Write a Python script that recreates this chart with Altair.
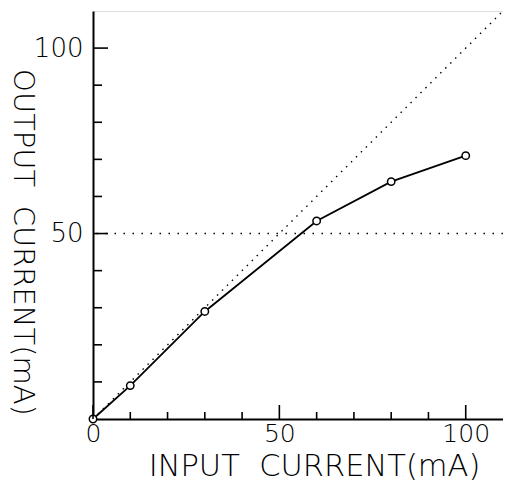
import altair as alt
import pandas as pd

# data
input_ma = [0, 10, 30, 60, 80, 100]
output_ma = [0, 9, 29, 53.4, 64, 71]
ideal_x = [0, 110]
ideal_y = [0, 110]
ref_level = 50
x_major = [0, 50, 100]
x_minor = [10, 20, 30, 40, 60, 70, 80, 90]
y_major = [50, 100]
y_minor = [10, 20, 30, 40, 60, 70, 80, 90]
x_title = "INPUT\u00a0\u00a0CURRENT(mA)"
y_title = "OUTPUT\u00a0\u00a0CURRENT(mA)"

W, H = 410, 408
FONT = "DejaVu Sans"

meas = pd.DataFrame({"x": input_ma, "y": output_ma})
ideal = pd.DataFrame({"x": ideal_x, "y": ideal_y})

xs = alt.Scale(domain=[0, 110], nice=False, zero=False)
ys = alt.Scale(domain=[0, 110], nice=False, zero=False)

x_axis = alt.Axis(values=x_major, title=x_title, ticks=False, grid=False,
                  domainColor="black", domainWidth=2, labelFont=FONT, labelFontSize=25,
                  labelFontWeight=200, labelColor="black", labelPadding=2, labelFlush=False,
                  titleFont=FONT, titleFontSize=30.5, titleFontWeight=200, titleColor="black",
                  titleX=221, titleY=56, titleBaseline="alphabetic", titleAlign="center")
y_axis = alt.Axis(values=y_major, title=y_title, ticks=False, grid=False,
                  domainColor="black", domainWidth=2, labelFont=FONT, labelFontSize=26,
                  labelFontWeight=200, labelColor="black", labelPadding=10, labelFlush=False,
                  titleFont=FONT, titleFontSize=29, titleFontWeight=200, titleColor="black",
                  titleAngle=90, titleX=-80, titleY=231, titleBaseline="alphabetic", titleAlign="center")

def X(f="x"):
    return alt.X(f"{f}:Q", scale=xs, axis=x_axis)

def Y(f="y"):
    return alt.Y(f"{f}:Q", scale=ys, axis=y_axis)

diag = alt.Chart(ideal).mark_line(color="black", strokeWidth=1.4, strokeDash=[1.5, 5.5]).encode(x=X(), y=Y())
hline = alt.Chart(pd.DataFrame({"y": [ref_level]})).mark_rule(
    color="black", strokeWidth=1.4, strokeDash=[1.5, 7.5]).encode(y=Y())
line = alt.Chart(meas).mark_line(color="black", strokeWidth=1.8).encode(x=X(), y=Y())
pts = alt.Chart(meas).mark_point(shape="circle", size=55, filled=False, fill="white",
                                 fillOpacity=1, stroke="black", strokeWidth=1.5, opacity=1).encode(x=X(), y=Y())

def xticks(vals, length):
    return alt.Chart(pd.DataFrame({"x": vals})).mark_rule(color="black", strokeWidth=1.6).encode(
        x=X(), y=alt.value(H), y2=alt.value(H - length))

def yticks(vals, length):
    return alt.Chart(pd.DataFrame({"y": vals})).mark_rule(color="black", strokeWidth=1.6).encode(
        y=Y(), x=alt.value(0), x2=alt.value(length))

chart = alt.layer(
    diag, hline, line, pts,
    xticks(x_major, 14), xticks(x_minor, 7),
    yticks(y_major, 15), yticks(y_minor, 9),
).properties(
    width=W, height=H,
    autosize=alt.AutoSizeParams(type="none"),
    padding={"left": 85, "top": 3, "right": 0, "bottom": 63},
).configure_view(stroke="black", strokeWidth=2).configure(background="white")

chart.save("out.html", embed_options={"renderer": "svg", "actions": False})
